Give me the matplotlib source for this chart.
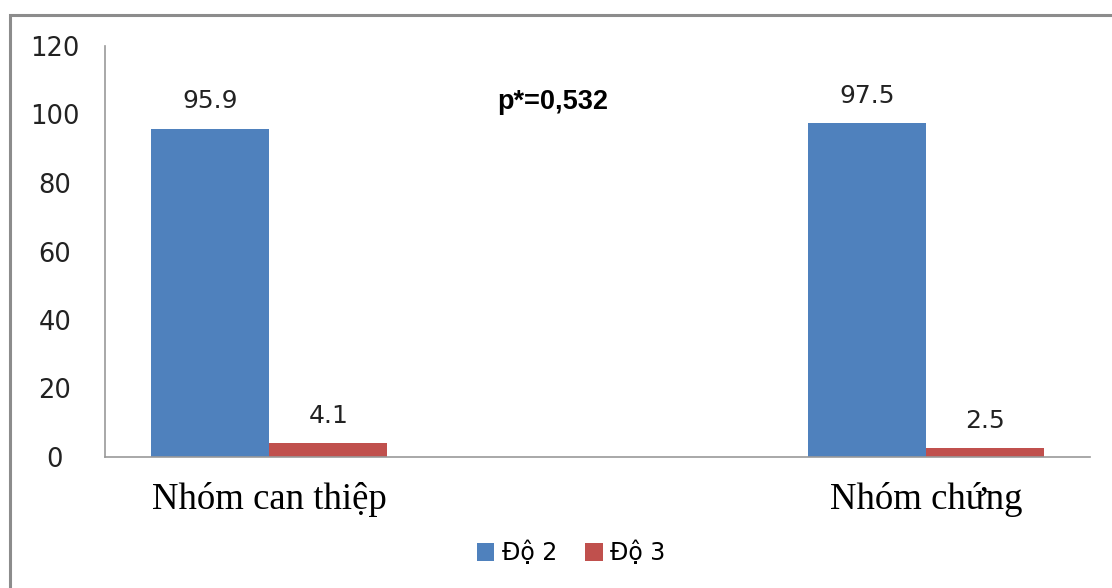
import matplotlib.pyplot as plt
from matplotlib.patches import Rectangle
import numpy as np

# data
groups = ["Nhóm can thiệp", "Nhóm chứng"]
do2 = [95.9, 97.5]
do3 = [4.1, 2.5]
series_names = ["Độ 2", "Độ 3"]
p_text = "p*=0,532"

blue = "#4F81BD"
red = "#C0504D"

fig = plt.figure(figsize=(11.12, 5.88), dpi=100)
ax = fig.add_axes([105 / 1112, 1 - 457 / 588, 985 / 1112, 411 / 588])

x = np.arange(len(groups))
w = 0.18
b1 = ax.bar(x - w / 2, do2, w, color=blue, label=series_names[0])
b2 = ax.bar(x + w / 2, do3, w, color=red, label=series_names[1])

for bars in (b1, b2):
    for rect in bars:
        h = rect.get_height()
        ax.annotate(f"{h:g}", (rect.get_x() + rect.get_width() / 2, h),
                    xytext=(0, 11), textcoords="offset points",
                    ha="center", va="bottom", fontsize=18, color="#222222")

ax.set_xlim(-0.25, 1.25)
ax.set_ylim(0, 120)
ax.set_yticks(range(0, 121, 20))
ax.tick_params(axis="y", length=0, pad=36, labelsize=18.5, labelcolor="#222222")
for lab in ax.get_yticklabels():
    lab.set_horizontalalignment("center")
ax.set_xticks(x)
ax.set_xticklabels(groups, fontsize=26.5, family="Liberation Serif")
ax.tick_params(axis="x", length=0, pad=18)

for s in ("top", "right"):
    ax.spines[s].set_visible(False)
for s in ("left", "bottom"):
    ax.spines[s].set_color("#999999")
    ax.spines[s].set_linewidth(1.2)

ax.text(553 / 1112, 1 - 102 / 588, p_text, transform=fig.transFigure,
        ha="center", va="center", fontsize=19.5, fontweight="bold",
        family="Liberation Sans")

fig.legend(handles=[b1, b2], loc="center", bbox_to_anchor=(571 / 1112, 1 - 553 / 588),
           ncol=2, frameon=False, fontsize=17, handlelength=0.75, handleheight=0.75,
           handletextpad=0.3, columnspacing=1.2)

# outer chart border
fig.patches.append(Rectangle((10 / 1112, -0.05), 1.1, 1 - 15 / 588 + 0.05,
                             transform=fig.transFigure, fill=False,
                             edgecolor="#8c8c8c", linewidth=2.2))

fig.savefig("out.png", dpi=100)
